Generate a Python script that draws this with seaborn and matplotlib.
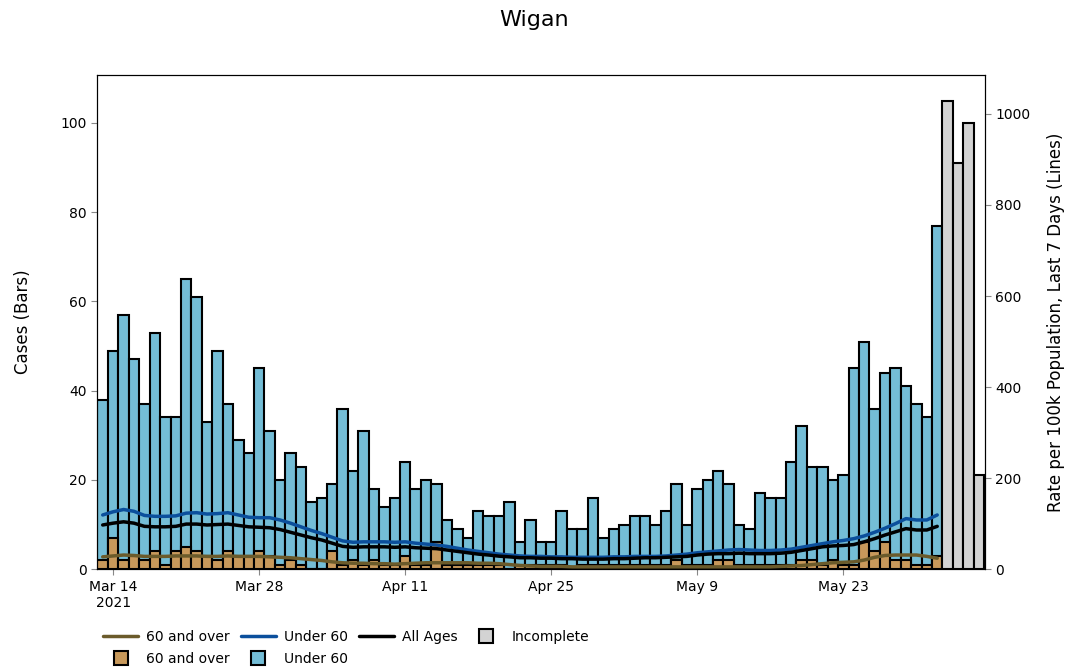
import pandas as pd
import seaborn as sns
import matplotlib.pyplot as plt
from matplotlib.lines import Line2D

# daily cases from 13 Mar 2021 (complete days)
all_cases = [38, 49, 57, 47, 37, 53, 34, 34, 65, 61,
             33, 49, 37, 29, 26, 45, 31, 20, 26, 23,
             15, 16, 19, 36, 22, 31, 18, 14, 16, 24,
             18, 20, 19, 11, 9, 7, 13, 12, 12, 15,
             6, 11, 6, 6, 13, 9, 9, 16, 7, 9,
             10, 12, 12, 10, 13, 19, 10, 18, 20, 22,
             19, 10, 9, 17, 16, 16, 24, 32, 23, 23,
             20, 21, 45, 51, 36, 44, 45, 41, 37, 34, 77]
over60_cases = [2, 7, 2, 3, 2, 4, 1, 4, 5, 4,
                3, 2, 4, 3, 3, 4, 3, 1, 2, 1,
                0, 0, 4, 1, 2, 1, 2, 1, 1, 3,
                1, 1, 6, 1, 1, 1, 1, 1, 1, 0,
                1, 1, 1, 1, 1, 0, 1, 1, 1, 1,
                1, 1, 1, 1, 1, 2, 1, 1, 1, 2,
                2, 1, 1, 1, 1, 1, 1, 2, 2, 1,
                2, 1, 1, 6, 4, 6, 2, 2, 1, 1, 3]
incomplete_cases = [105, 91, 100, 21]

# 7-day rates per 100k
rate_under60 = [119, 126, 131, 127, 118, 116, 116, 117, 123, 124,
                121, 122, 124, 119, 114, 113, 113, 108, 101, 93,
                85, 78, 70, 62, 59, 60, 60, 60, 59, 60,
                57, 55, 53, 50, 46, 42, 39, 36, 33, 31,
                29, 28, 28, 27, 27, 26, 26, 26, 26, 27,
                27, 28, 28, 28, 29, 31, 33, 36, 38, 40,
                42, 43, 42, 41, 41, 42, 44, 48, 52, 56,
                60, 63, 67, 73, 81, 90, 100, 111, 108, 108, 119]
rate_all = [97, 101, 104, 101, 94, 93, 93, 94, 99, 99,
            97, 98, 99, 96, 93, 92, 91, 87, 81, 75,
            69, 64, 57, 50, 48, 49, 49, 49, 48, 49,
            47, 46, 45, 42, 39, 36, 33, 31, 28.5, 27,
            25, 25, 24, 24, 23, 23, 22, 22, 22, 23,
            23, 24, 25, 25, 26, 27, 28, 31, 33, 34,
            34, 35, 34, 34, 34, 35, 37, 41, 45, 49,
            51, 52, 54, 60, 67, 75, 82, 89, 86, 86, 94]
rate_over60 = [27, 29, 31, 30, 28, 28, 28, 29, 29, 29,
               28, 28, 29, 28, 28, 28, 27, 26, 25, 23,
               21, 19, 16, 14, 13, 13, 12, 12, 11, 12,
               13, 14, 14, 14, 14, 14, 13, 13, 12, 10,
               8, 7, 6, 6, 6, 5, 5, 5, 5, 5,
               5, 5, 5, 5, 5, 5, 5, 5, 5, 5,
               5, 5, 5, 5, 5, 6, 7, 8, 10, 12,
               14, 15, 16, 20, 26, 30, 31, 31, 31, 28, 24]

start = pd.Timestamp("2021-03-13")
tick_dates = ["2021-03-14", "2021-03-28", "2021-04-11", "2021-04-25", "2021-05-09", "2021-05-23"]
tick_labels = ["Mar 14\n2021", "Mar 28", "Apr 11", "Apr 25", "May 9", "May 23"]

c_over = "#C8995B"
c_under = "#74BDD6"
c_inc = "#D3D3D3"
l_over = "#6B5B2B"
l_under = "#0B4F9C"

n = len(all_cases)
day = list(range(n))
inc_day = list(range(n, n + len(incomplete_cases)))
bars = pd.DataFrame({"day": day, "total": all_cases, "over60": over60_cases})
inc = pd.DataFrame({"day": inc_day, "cases": incomplete_cases})
lines = pd.DataFrame({"day": day, "u60": rate_under60, "all": rate_all, "o60": rate_over60})

sns.set_style("ticks")
plt.rcParams.update({"text.color": "black", "axes.labelcolor": "black"})
fig, ax = plt.subplots(figsize=(10.68, 6.68), dpi=100)
fig.subplots_adjust(left=0.0908, right=0.922, bottom=0.148, top=0.888)

kw = dict(native_scale=True, width=1, saturation=1, errorbar=None,
          edgecolor="black", linewidth=1.5, orient="x", ax=ax)
sns.barplot(data=bars, x="day", y="total", color=c_under, **kw)
sns.barplot(data=bars, x="day", y="over60", color=c_over, **kw)
sns.barplot(data=inc, x="day", y="cases", color=c_inc, **kw)

ax.set_xlim(-0.55, n + len(incomplete_cases) - 0.45)
ax.set_ylim(0, 110.8)
ax.set_yticks([0, 20, 40, 60, 80, 100])
ticks = [(pd.Timestamp(d) - start).days for d in tick_dates]
ax.set_xticks(ticks)
ax.set_xticklabels(tick_labels)
ax.set_xlabel("")
ax.set_ylabel("Cases (Bars)", fontsize=12, labelpad=20)

ax2 = ax.twinx()
sns.lineplot(data=lines, x="day", y="o60", color=l_over, linewidth=2.5, ax=ax2)
sns.lineplot(data=lines, x="day", y="u60", color=l_under, linewidth=2.5, ax=ax2)
sns.lineplot(data=lines, x="day", y="all", color="black", linewidth=2.5, ax=ax2)
ax2.set_ylim(0, 1086)
ax2.set_yticks([0, 200, 400, 600, 800, 1000])
ax2.set_ylabel("Rate per 100k Population, Last 7 Days (Lines)", fontsize=12, labelpad=12)
ax2.set_xlim(ax.get_xlim())

for a in (ax, ax2):
    a.tick_params(colors="#888888", labelcolor="black", labelsize=10, length=4)
    for s in a.spines.values():
        s.set_color("black")
        s.set_linewidth(0.8)

fig.suptitle("Wigan", fontsize=16, y=0.985)

def sq(c):
    return Line2D([], [], marker="s", markersize=10.5, markerfacecolor=c,
                  markeredgecolor="black", markeredgewidth=1.5, linestyle="none")

handles = [Line2D([], [], color=l_over, lw=2.5), sq(c_over),
           Line2D([], [], color=l_under, lw=2.5), sq(c_under),
           Line2D([], [], color="black", lw=2.5), sq(c_inc)]
labels = ["60 and over", "60 and over", "Under 60", "Under 60", "All Ages", "Incomplete"]
fig.legend(handles, labels, ncol=4, loc="lower left", bbox_to_anchor=(0.085, -0.015),
           frameon=False, fontsize=10, handlelength=2.5, columnspacing=0.8,
           handletextpad=0.6, labelspacing=0.55)

fig.savefig("out.png", dpi=100)
